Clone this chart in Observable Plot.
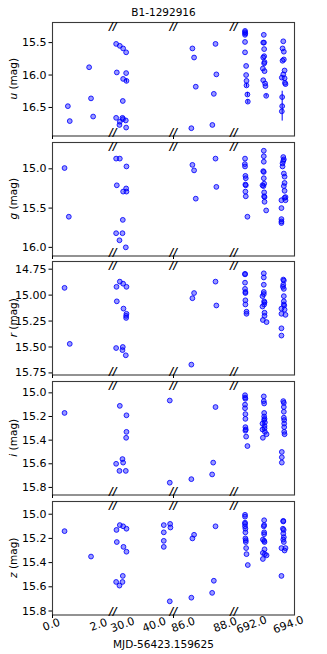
<!DOCTYPE html>
<html><head><meta charset="utf-8">
<script src="https://cdn.jsdelivr.net/npm/d3@7"></script>
<script src="https://cdn.jsdelivr.net/npm/@observablehq/plot@0.6"></script>
<style>
body{margin:0;background:#fff;font-family:"DejaVu Sans",sans-serif;}
#fig{position:relative;width:327px;height:654px;overflow:hidden;background:#fff;}
#fig svg{position:absolute;left:0;}
.lbl{position:absolute;left:0;width:327px;text-align:center;font-size:10.5px;color:#000;line-height:1;}
</style></head><body><div id="fig"></div>
<script>
const title = "B1-1292916";
const xLabel = "MJD-56423.159625";
const segments = [[0, 2.56], [26.6, 45.7], [85.48, 88.36], [690.98, 694.27]];
const xTicks = [0, 2, 30, 40, 86, 88, 692, 694];
const bands = ["u", "g", "r", "i", "z"];
const yDomains = [[16.94, 15.19], [16.11, 14.665], [15.77, 14.676], [15.864, 14.904], [15.833, 14.895]];
const yTicks = [[15.5, 16.0, 16.5], [15.0, 15.5, 16.0], [14.75, 15.0, 15.25, 15.5, 15.75], [15.0, 15.2, 15.4, 15.6, 15.8], [15.0, 15.2, 15.4, 15.6, 15.8]];
const yDecimals = [1, 1, 2, 1, 1];

// [t, mag, err]
const uData = [
[0.65,16.48],[0.73,16.71],[1.55,15.88],[1.63,16.36],[1.72,16.64],
[27.59,15.52],[28.75,15.55],[29.80,15.59],[30.75,15.65],[27.80,15.96],[30.75,15.97],[29.80,16.06],[30.85,16.09,0.03],[29.69,16.40],[27.59,16.66],[28.75,16.72],[29.59,16.66],[29.75,16.68],[28.64,16.77],[30.64,16.70],[30.75,16.81],
[86.33,16.82],[86.38,15.59],[86.46,15.73],[86.54,16.18],[87.33,16.77],[87.40,16.29],[87.48,15.52],[87.52,15.99],
[691.58,15.32],[691.58,15.34],[691.59,15.36],[691.58,15.38],[691.58,15.49],[691.58,15.65],[691.64,15.86],[691.64,16.00],[691.66,16.09],[691.66,16.16,0.03],[691.71,16.30,0.03],[691.73,16.41,0.03],
[692.60,15.38],[692.57,15.50],[692.61,15.50],[692.62,15.60],[692.62,15.71],[692.57,15.73],[692.64,15.80],[692.62,15.82],[692.55,15.90],[692.64,15.94],[692.57,16.08],[692.67,16.13],[692.69,16.17],[692.73,16.32,0.02],
[693.66,15.48],[693.62,15.59],[693.69,15.64],[693.69,15.76],[693.62,15.78],[693.73,15.93],[693.66,15.99],[693.58,16.04],[693.73,16.05],[693.75,16.12],[693.78,16.14],[693.60,16.34],[693.60,16.48,0.23],[693.58,16.56]
];
const gData = [
[0.51,14.99],[0.69,15.61],
[27.59,14.87],[28.75,14.87],[30.85,14.97],[27.80,15.21],[30.75,15.25],[29.80,15.29],[30.85,15.29],[29.69,15.65],[27.59,15.82],[29.59,15.82],[28.64,15.91],[30.64,16.00],
[86.38,14.95],[86.46,15.02],[86.54,15.38],[87.48,14.87],[87.52,15.23],
[691.58,14.87],[691.57,14.94],[691.58,14.97],[691.60,15.09],[691.62,15.12],[691.60,15.20],[691.62,15.21],[691.60,15.29],[691.62,15.35],[691.71,15.61],
[692.60,14.77],[692.60,14.84],[692.60,14.91],[692.57,15.03],[692.60,15.04],[692.60,15.12],[692.62,15.19],[692.53,15.21],[692.58,15.22],[692.62,15.30],[692.62,15.35],[692.64,15.36],[692.64,15.42],[692.73,15.53],
[693.66,14.85],[693.69,14.88],[693.66,14.90],[693.62,14.93],[693.62,14.97],[693.69,15.06],[693.73,15.10],[693.73,15.18],[693.69,15.22],[693.73,15.28],[693.78,15.36],[693.73,15.37],[693.56,15.40],[693.78,15.40],[693.56,15.50],[693.56,15.64],[693.56,15.67],[693.56,15.69]
];
const rData = [
[0.51,14.93],[0.73,15.47],
[28.75,14.87],[27.70,14.92],[29.80,14.89],[30.85,14.92],[27.80,15.06],[29.91,15.13],[30.85,15.18],[30.75,15.20],[30.75,15.22],[27.59,15.51],[29.69,15.50],[29.59,15.53],[30.64,15.58],
[86.33,15.67],[86.38,15.03],[86.46,14.98],[87.48,14.87],[87.52,15.10],
[691.58,14.795],[691.58,14.80],[691.58,14.88],[691.58,14.94],[691.60,14.97],[691.60,14.98],[691.60,15.05],[691.60,15.09],[691.66,15.16],[691.66,15.18],
[692.60,14.79],[692.60,14.83],[692.60,14.90],[692.60,14.97],[692.60,14.99],[692.53,15.01],[692.62,15.06],[692.64,15.07],[692.62,15.09],[692.53,15.11],[692.64,15.17],[692.64,15.20],[692.55,15.24],[692.75,15.26],
[693.66,14.85],[693.69,14.86],[693.66,14.90],[693.64,14.92],[693.69,14.94],[693.69,15.01],[693.69,15.06],[693.69,15.09],[693.71,15.10],[693.56,15.13],[693.73,15.14],[693.56,15.18],[693.78,15.19],[693.56,15.32],[693.56,15.39]
];
const iData = [
[0.51,15.17],
[28.75,15.11],[30.85,15.19],[30.85,15.33],[30.75,15.38],[27.59,15.60],[29.59,15.56],[29.80,15.59],[28.64,15.66],[30.64,15.66],[44.52,15.065],[44.52,15.76],
[86.33,15.73],[87.37,15.59],[87.32,15.69],[87.48,15.12],
[691.58,15.02],[691.58,15.04],[691.60,15.05],[691.58,15.10],[691.58,15.13],[691.60,15.18],[691.60,15.22],[691.60,15.29],[691.62,15.31],[691.60,15.32],[691.64,15.37],[691.71,15.45],
[692.60,15.03],[692.60,15.07],[692.62,15.09],[692.62,15.17],[692.62,15.20],[692.64,15.22],[692.62,15.23],[692.66,15.25],[692.53,15.26],[692.64,15.28],[692.64,15.30],[692.53,15.31],[692.66,15.33],[692.75,15.35],[692.55,15.38],
[693.66,15.07],[693.69,15.085],[693.69,15.12],[693.69,15.16],[693.69,15.21],[693.71,15.23],[693.71,15.26],[693.71,15.29],[693.71,15.33],[693.73,15.35],[693.58,15.50],[693.58,15.545],[693.58,15.59]
];
const zData = [
[0.51,15.14],[1.63,15.35],
[28.75,15.09],[29.80,15.10],[30.85,15.12],[27.70,15.13],[27.80,15.23],[29.91,15.27],[30.85,15.31],[29.69,15.51],[27.59,15.56],[29.59,15.56],[28.64,15.59],
[42.63,15.09],[42.63,15.15],[42.63,15.22],[42.63,15.27],[44.63,15.08],[44.73,15.11],[44.52,15.72],
[86.33,15.69],[86.38,15.20],[86.46,15.17],[87.32,15.65],[87.40,15.55],[87.48,15.10],
[691.58,15.005],[691.58,15.02],[691.58,15.07],[691.58,15.08],[691.58,15.10],[691.60,15.12],[691.60,15.15],[691.60,15.20],[691.62,15.215],[691.62,15.23],[691.64,15.28],[691.66,15.33],[691.73,15.42],
[692.62,15.05],[692.62,15.09],[692.60,15.10],[692.62,15.15],[692.62,15.165],[692.55,15.21],[692.62,15.22],[692.64,15.23],[692.64,15.29],[692.55,15.32],[692.66,15.33],[692.75,15.34],[692.55,15.37],
[693.66,15.055],[693.66,15.06],[693.64,15.12],[693.68,15.13],[693.66,15.16],[693.69,15.19],[693.66,15.21],[693.69,15.23],[693.56,15.28],[693.78,15.28],[693.73,15.30],[693.56,15.51]
];
const bandData = [uData, gData, rData, iData, zData];

function brokenX(t) {
  for (let i = 0; i < segments.length; i++) {
    const [a, b] = segments[i];
    if (t >= a - 1e-9 && t <= b + 1e-9) return i + (t - a) / (b - a);
  }
  return NaN;
}
const breakStarts = segments.slice(1).map(s => s[0]);

const fig = document.getElementById("fig");
const panelTop = 22, panelStep = 119.7, panelH = 113.5;
const FONT = "DejaVu Sans, sans-serif";

bands.forEach((band, k) => {
  const last = k === bands.length - 1;
  const mt = 8, mb = last ? 40 : 8;
  const data = bandData[k].map(d => ({t: d[0], mag: d[1], err: d[2] || 0}));
  const brk = {x: d => d, text: () => "//", fontSize: 10.5, fontWeight: "bold", fill: "#000", fontStyle: "italic"};
  const marks = [
    Plot.frame({stroke: "#3a3a3a", strokeWidth: 1.1}),
    Plot.axisY({ticks: yTicks[k], tickFormat: d => d.toFixed(yDecimals[k]), tickSize: 3.5, tickPadding: 2.5, label: null, fontSize: 11}),
    Plot.axisX({ticks: xTicks, tickSize: 3.5, tickFormat: () => "", label: null}),
    Plot.ruleX(data.filter(d => d.err > 0), {x: "t", y1: d => d.mag - d.err, y2: d => d.mag + d.err, stroke: "blue", strokeWidth: 1}),
    Plot.dot(data, {x: "t", y: "mag", r: 2.4, fill: "blue", fillOpacity: 0.4, stroke: "blue", strokeOpacity: 0.85, strokeWidth: 1}),
    Plot.text(breakStarts, {...brk, frameAnchor: "top"}),
    Plot.text(breakStarts, {...brk, frameAnchor: "bottom"})
  ];
  if (last) {
    marks.push(Plot.text(xTicks, {x: d => d, frameAnchor: "bottom", dy: 13, rotate: -20, text: d => d.toFixed(1), fontSize: 11, fill: "#000"}));
  }
  const svg = Plot.plot({
    width: 327, height: panelH + mt + mb,
    marginLeft: 52, marginRight: 33, marginTop: mt, marginBottom: mb,
    style: {background: "transparent", overflow: "visible", fontFamily: FONT, fontSize: "10.5px", color: "#000"},
    x: {type: "linear", domain: [0, 4], transform: brokenX},
    y: {domain: yDomains[k]},
    marks
  });
  svg.style.top = (panelTop + k * panelStep - mt) + "px";
  const lab = d3.select(svg).append("text")
    .attr("transform", `translate(14,${mt + panelH / 2}) rotate(-90)`)
    .attr("text-anchor", "middle").attr("dominant-baseline", "middle")
    .attr("font-family", FONT).attr("font-size", 10.5).attr("fill", "#000");
  lab.append("tspan").attr("font-style", "italic").text(band);
  lab.append("tspan").text(" (mag)");
  fig.appendChild(svg);
});

const t = document.createElement("div");
t.className = "lbl"; t.style.top = "7px"; t.textContent = title;
fig.appendChild(t);
const xl = document.createElement("div");
xl.className = "lbl"; xl.style.top = "639px"; xl.textContent = xLabel;
fig.appendChild(xl);
</script></body></html>
